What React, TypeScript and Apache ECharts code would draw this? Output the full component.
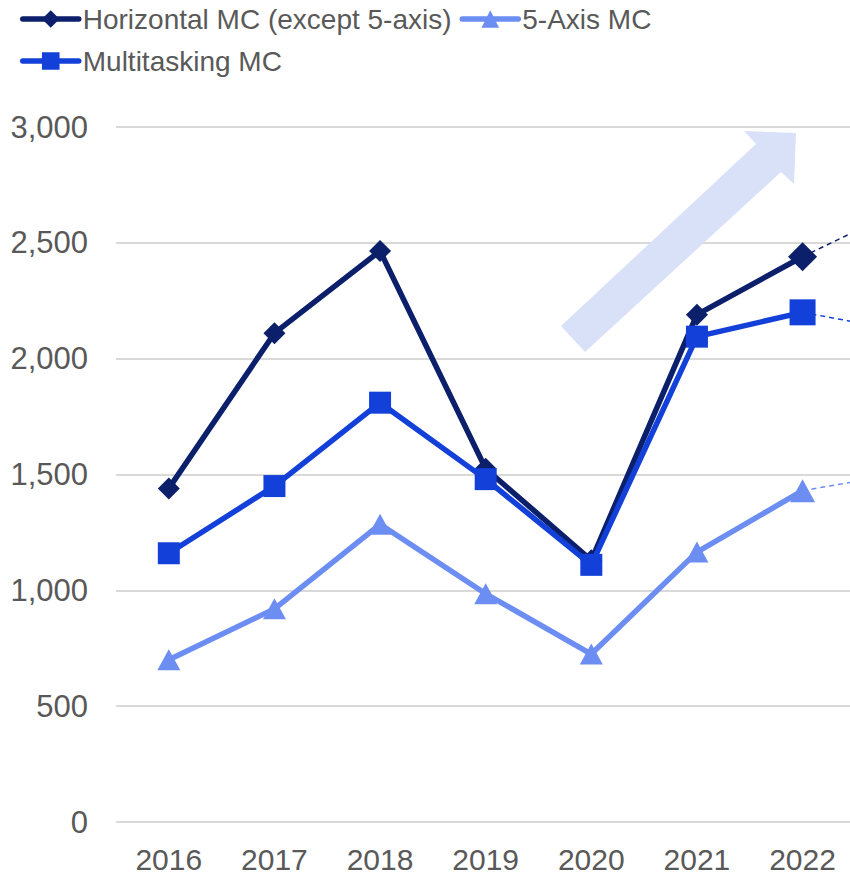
import React, { useEffect, useRef } from "react";
import * as echarts from "echarts";

const years = ["2016", "2017", "2018", "2019", "2020", "2021", "2022", "2023"];
const horizontalMC = [1440, 2110, 2465, 1525, 1130, 2190, 2440];
const fiveAxisMC = [700, 920, 1285, 985, 725, 1165, 1430];
const multitaskingMC = [1160, 1450, 1810, 1480, 1110, 2095, 2200];
// 2023 outlook values (dashed continuation, mostly off-canvas)
const horizontalOutlook = [2440, 2660];
const fiveAxisOutlook = [1430, 1510];
const multitaskingOutlook = [2200, 2115];
const yTicks = { min: 0, max: 3000, interval: 500 };

const NAVY = "#0b1f6b";
const BLUE = "#1240d9";
const LIGHT = "#6c8df2";
const TEXT = "#595959";
const FONT = "Liberation Sans, Arial, sans-serif";

function outlook(vals: number[]) {
  const arr: (number | null)[] = years.map(() => null);
  arr[years.length - 2] = vals[0];
  arr[years.length - 1] = vals[1];
  return arr;
}

export default function App() {
  const ref = useRef<HTMLDivElement>(null);
  useEffect(() => {
    if (!ref.current) return;
    const chart = echarts.init(ref.current, undefined, { renderer: "svg" });
    const lastIdx = horizontalMC.length - 1;
    const legendCommon = {
      left: 20,
      padding: 0,
      itemWidth: 56,
      itemHeight: 22,
      itemGap: 8,
      textStyle: { color: TEXT, fontSize: 28, fontFamily: FONT, padding: [0, 0, 0, -1] },
      lineStyle: { width: 5.5, cap: "round" },
    };
    const option: any = {
      animation: false,
      backgroundColor: "#ffffff",
      textStyle: { fontFamily: FONT },
      legend: [
        { ...legendCommon, data: ["Horizontal MC (except 5-axis)", "5-Axis MC"], top: 5 },
        { ...legendCommon, data: ["Multitasking MC"], top: 47 },
      ],
      grid: { left: 116, right: 0, top: 127, bottom: 51, containLabel: false },
      xAxis: {
        type: "category",
        data: years,
        boundaryGap: true,
        axisLine: { show: false },
        axisTick: { show: false },
        axisLabel: {
          color: TEXT,
          fontSize: 30,
          interval: 0,
          margin: 22,
          formatter: (v: string) => (v === "2023" ? "" : v),
        },
      },
      yAxis: {
        type: "value",
        min: yTicks.min,
        max: yTicks.max,
        interval: yTicks.interval,
        axisLine: { show: false },
        axisTick: { show: false },
        splitLine: { lineStyle: { color: "#d9d9d9", width: 2 } },
        axisLabel: {
          color: TEXT,
          fontSize: 31,
          margin: 28,
          formatter: (v: number) => v.toLocaleString("en-US"),
        },
      },
      graphic: [
        {
          type: "polygon",
          z: 1,
          shape: {
            points: [
              [561, 326],
              [756, 144],
              [744, 131],
              [796, 133],
              [794, 184],
              [781, 172],
              [585, 352],
            ],
          },
          style: { fill: "#d9e1f9" },
        },
      ],
      series: [
        {
          name: "H outlook",
          type: "line",
          data: outlook(horizontalOutlook),
          showSymbol: false,
          symbol: "none",
          lineStyle: { color: NAVY, width: 1.5, type: [5, 4] },
          z: 2,
        },
        {
          name: "F outlook",
          type: "line",
          data: outlook(fiveAxisOutlook),
          showSymbol: false,
          symbol: "none",
          lineStyle: { color: LIGHT, width: 1.5, type: [5, 4] },
          z: 2,
        },
        {
          name: "M outlook",
          type: "line",
          data: outlook(multitaskingOutlook),
          showSymbol: false,
          symbol: "none",
          lineStyle: { color: BLUE, width: 1.5, type: [5, 4] },
          z: 2,
        },
        {
          name: "5-Axis MC",
          type: "line",
          data: fiveAxisMC.map((v, i) => ({ value: v, symbolSize: i === lastIdx ? [25, 23] : [23, 21] })),
          symbol: "triangle",
          itemStyle: { color: LIGHT },
          lineStyle: { color: LIGHT, width: 5.5 },
          z: 3,
        },
        {
          name: "Horizontal MC (except 5-axis)",
          type: "line",
          data: horizontalMC.map((v, i) => ({ value: v, symbolSize: i === lastIdx ? 29 : 22 })),
          symbol: "diamond",
          itemStyle: { color: NAVY },
          lineStyle: { color: NAVY, width: 5.5 },
          z: 4,
        },
        {
          name: "Multitasking MC",
          type: "line",
          data: multitaskingMC.map((v, i) => ({ value: v, symbolSize: i === lastIdx ? 26 : 22 })),
          symbol: "rect",
          itemStyle: { color: BLUE },
          lineStyle: { color: BLUE, width: 5.5 },
          z: 5,
        },
      ],
    };
    chart.setOption(option);
    return () => chart.dispose();
  }, []);
  return (
    <div
      style={{ position: "absolute", left: 0, top: 0, width: 850, height: 874, overflow: "hidden" }}
    >
      <div ref={ref} style={{ width: 961, height: 874 }} />
    </div>
  );
}
